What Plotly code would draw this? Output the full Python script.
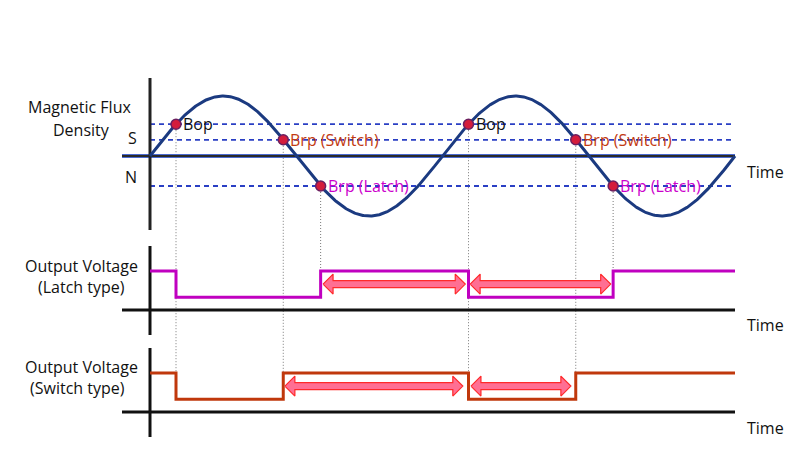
import numpy as np
import plotly.graph_objects as go

# ---------------- data ----------------
phase_end = 720                      # two field cycles, in degrees of phase
flux_amplitude = 1.0
threshold_names = ["Bop", "Brp (Switch)", "Brp (Latch)"]
threshold_levels = [0.53, 0.27, -0.50]
threshold_colors = ["#111111", "#c23a12", "#cc00cc"]
bop_times = [32, 392]
brp_switch_times = [164, 524]
brp_latch_times = [210, 570]

latch_times = [0, 32, 210, 392, 570, 720]
latch_levels = [1.0, 0.33, 1.0, 0.33, 1.0, 1.0]
switch_times = [0, 32, 164, 392, 524, 720]
switch_levels = [1.0, 0.33, 1.0, 0.33, 1.0, 1.0]
output_high = 1.0

latch_arrow_spans = [(213, 388), (394, 567)]
switch_arrow_spans = [(166, 385), (395, 518)]
arrow_level = 0.665

phase = np.linspace(0, phase_end, 721)
flux = flux_amplitude * np.sin(np.radians(phase))

# ---------------- layout geometry ----------------
PAGE_MARGIN = 8                      # default body margin of the html page
W, H = 800 - PAGE_MARGIN, 450 - PAGE_MARGIN
X0_PX, PX_PER_DEG = 150, 585 / 720
FLUX_ZERO_PX, FLUX_PPU = 156, 60
LATCH_ZERO_PX, SWITCH_ZERO_PX, V_PPU = 310, 412, 39


def yrange(zero_px, ppu):
    return [(zero_px - (H + PAGE_MARGIN)) / ppu, (zero_px - PAGE_MARGIN) / ppu]


def to_flux_units(v, zero_px, ppu):
    px = zero_px - v * ppu
    return (FLUX_ZERO_PX - px) / FLUX_PPU


xrange_ = [(PAGE_MARGIN - X0_PX) / PX_PER_DEG, (W + PAGE_MARGIN - X0_PX) / PX_PER_DEG]
axis_left = -28 / PX_PER_DEG

SINE_C = "#1b3a80"
DASH_C = "#2a3fc4"
LATCH_C = "#c000c0"
SWITCH_C = "#c0380c"
ARROW_FILL = "#ff6f93"
ARROW_LINE = "#ff2a2a"
FONT = "Open Sans"

fig = go.Figure()


def line(x, y, color, width, yaxis="y", dash=None, shape="linear"):
    fig.add_trace(go.Scatter(x=x, y=y, mode="lines", yaxis=yaxis,
                             line=dict(color=color, width=width, dash=dash, shape=shape),
                             hoverinfo="skip", showlegend=False))


# dotted guide lines
sw_high_in_flux = to_flux_units(output_high, SWITCH_ZERO_PX, V_PPU)
la_high_in_flux = to_flux_units(output_high, LATCH_ZERO_PX, V_PPU)
for t in bop_times:
    line([t, t], [threshold_levels[0], sw_high_in_flux], "#7a7a7a", 1, dash="1px,2px")
for t in brp_switch_times:
    line([t, t], [threshold_levels[1], sw_high_in_flux], "#7a7a7a", 1, dash="1px,2px")
for t in brp_latch_times:
    line([t, t], [threshold_levels[2], la_high_in_flux], "#7a7a7a", 1, dash="1px,2px")

# threshold dashed lines
for lvl in threshold_levels:
    line([0, phase_end], [lvl, lvl], DASH_C, 1.8, dash="5px,4px")

# top panel axes
line([axis_left, phase_end], [0, 0], "#4a6ad0", 4)
line([axis_left, phase_end], [0, 0], "#2a2a2a", 2)
line([0, 0], [(FLUX_ZERO_PX - 230) / FLUX_PPU, (FLUX_ZERO_PX - 78) / FLUX_PPU], "#222222", 3)

# sine wave
line(phase, flux, SINE_C, 3)

# crossing markers
pts_t = bop_times + brp_switch_times + brp_latch_times
pts_y = [threshold_levels[0]] * 2 + [threshold_levels[1]] * 2 + [threshold_levels[2]] * 2
fig.add_trace(go.Scatter(x=pts_t, y=pts_y, mode="markers",
                         marker=dict(size=10, color="#d41c3c", line=dict(color="#6b1f5f", width=1.5)),
                         hoverinfo="skip", showlegend=False))

# output panels
for yax in ("y2", "y3"):
    line([axis_left, phase_end], [0, 0], "#111111", 3, yaxis=yax)
    line([0, 0], [64 / V_PPU, -25 / V_PPU], "#111111", 3, yaxis=yax)

line(latch_times, latch_levels, LATCH_C, 3, yaxis="y2", shape="hv")
line(switch_times, switch_levels, SWITCH_C, 3, yaxis="y3", shape="hv")

# double arrows
HEAD_LEN = 10 / PX_PER_DEG
BODY_H = 3.5 / V_PPU
HEAD_H = 10 / V_PPU


def double_arrow(x0, x1, y, yaxis):
    xs = [x0, x0 + HEAD_LEN, x0 + HEAD_LEN, x1 - HEAD_LEN, x1 - HEAD_LEN, x1,
          x1 - HEAD_LEN, x1 - HEAD_LEN, x0 + HEAD_LEN, x0 + HEAD_LEN, x0]
    ys = [y, y + HEAD_H, y + BODY_H, y + BODY_H, y + HEAD_H, y,
          y - HEAD_H, y - BODY_H, y - BODY_H, y - HEAD_H, y]
    fig.add_trace(go.Scatter(x=xs, y=ys, mode="lines", fill="toself", fillcolor=ARROW_FILL,
                             line=dict(color=ARROW_LINE, width=1.2), yaxis=yaxis,
                             hoverinfo="skip", showlegend=False))


for a, b in latch_arrow_spans:
    double_arrow(a, b, arrow_level, "y2")
for a, b in switch_arrow_spans:
    double_arrow(a, b, arrow_level, "y3")

# ---------------- text ----------------
ann = []
for times, name, lvl, col in ((bop_times, threshold_names[0], threshold_levels[0], threshold_colors[0]),
                              (brp_switch_times, threshold_names[1], threshold_levels[1], threshold_colors[1]),
                              (brp_latch_times, threshold_names[2], threshold_levels[2], threshold_colors[2])):
    for t in times:
        ann.append(dict(x=t, y=lvl, xref="x", yref="y", text=name, showarrow=False,
                        xanchor="left", yanchor="middle", xshift=5,
                        font=dict(family=FONT, size=16, color=col)))


def ptext(text, xpx, ypx, anchor="center", size=16):
    ann.append(dict(x=(xpx - PAGE_MARGIN) / W, y=1 - (ypx - PAGE_MARGIN) / H,
                    xref="paper", yref="paper", text=text,
                    showarrow=False, xanchor=anchor, yanchor="middle",
                    font=dict(family=FONT, size=size, color="#111111")))


ptext("Magnetic Flux", 79, 107)
ptext("Density", 81, 130)
ptext("S", 133, 138)
ptext("N", 131, 177)
ptext("Output Voltage", 81, 266)
ptext("(Latch type)", 81, 287)
ptext("Output Voltage", 81, 367)
ptext("(Switch type)", 77, 388)
for y in (172, 325, 428):
    ptext("Time", 745, y, anchor="left")

hidden = dict(visible=False, showgrid=False, zeroline=False, fixedrange=True)
fig.update_layout(
    width=W, height=H, margin=dict(l=0, r=0, t=0, b=0),
    paper_bgcolor="white", plot_bgcolor="white", showlegend=False,
    xaxis=dict(range=xrange_, **hidden),
    yaxis=dict(range=yrange(FLUX_ZERO_PX, FLUX_PPU), **hidden),
    yaxis2=dict(range=yrange(LATCH_ZERO_PX, V_PPU), overlaying="y", **hidden),
    yaxis3=dict(range=yrange(SWITCH_ZERO_PX, V_PPU), overlaying="y", **hidden),
    annotations=ann,
)

fig.write_html("out.html")
